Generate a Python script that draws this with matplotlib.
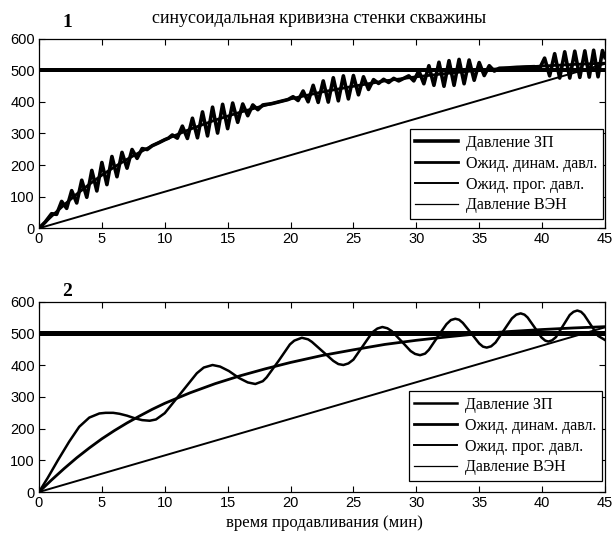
import matplotlib.pyplot as plt
import numpy as np

# время, мин / давление
dyn_t = [0, 1, 2, 3, 4, 5, 6, 7, 8, 9, 10, 12, 14, 16, 18, 20, 22.5, 25, 27.5,
         30, 32.5, 35, 37.5, 40, 42.5, 45]
dyn_p = [0, 38, 74, 108, 139, 168, 194, 218, 240, 261, 280, 313, 342, 367, 389,
         409, 431, 449, 466, 479, 490, 500, 507, 513, 518, 522]

prog_t = [0, 45]
prog_p = [0, 520]

ven_t = [0, 45]
ven_mid = [501, 501]
ven_lo = [494, 494]
ven_hi = [508, 508]

# panel 1: pressure with bursts of oscillation (read peak by peak)
zp1_t = [0, 0.5, 1.0, 1.4, 1.8, 2.2, 2.6, 3.0, 3.4, 3.8, 4.2, 4.6, 5.0, 5.4, 5.8,
         6.2, 6.6, 7.0, 7.4, 7.8, 8.2, 8.6, 9.0, 9.5, 10.0, 10.3,
         10.6, 11.0, 11.4, 11.8, 12.2, 12.6, 13.0, 13.4, 13.8, 14.2, 14.6, 15.0,
         15.4, 15.8, 16.2, 16.6, 17.0, 17.4, 17.8, 18.5, 19.2, 19.8,
         20.2, 20.6, 21.0, 21.4, 21.8, 22.2, 22.6, 23.0, 23.4, 23.8, 24.2, 24.6,
         25.0, 25.4, 25.8, 26.2, 26.6, 27.0, 27.4, 27.8, 28.2, 28.6, 29.0,
         29.4, 29.8, 30.2, 30.6, 31.0, 31.4, 31.8, 32.2, 32.6, 33.0, 33.4, 33.8,
         34.2, 34.6, 35.0, 35.4, 35.8, 36.2, 36.6, 37.3, 38.0, 38.7, 39.4,
         39.8, 40.2, 40.6, 41.0, 41.4, 41.8, 42.2, 42.6, 43.0, 43.4, 43.75, 44.1,
         44.45, 44.8, 45.0]
zp1_p = [0, 20, 46, 44, 85, 63, 119, 80, 152, 98, 183, 118, 208, 138, 227,
         163, 240, 190, 249, 221, 252, 249, 261, 270, 280, 285,
         295, 285, 323, 284, 348, 286, 368, 292, 383, 301, 392, 315,
         396, 335, 393, 356, 390, 375, 390, 394, 401, 407,
         416, 404, 434, 400, 452, 398, 466, 399, 476, 403, 482, 409,
         483, 422, 479, 439, 470, 458, 471, 461, 474, 466, 474,
         482, 466, 498, 457, 514, 452, 525, 449, 530, 452, 534, 457,
         532, 468, 524, 483, 514, 497, 506, 507, 509, 510, 511,
         505, 538, 482, 552, 475, 558, 475, 560, 477, 561, 478, 563,
         479, 562, 540]

# panel 2: smooth wave
zp2_t = [0, 0.7, 1.5, 2.4, 3.2, 4.0, 4.8, 5.3, 5.9, 6.4, 7.0, 7.6, 8.2, 8.8,
         9.3, 10.0, 11.3, 12.55, 13.1, 13.8, 14.4, 15.1, 15.5, 15.9, 16.6,
         17.2, 17.8, 18.1, 19.05, 19.95, 20.3, 20.9, 21.4, 21.7, 22.55, 23.4,
         23.8, 24.2, 24.6, 25.0, 25.75, 26.5, 26.9, 27.3, 27.7, 28.05, 28.8,
         29.55, 29.9, 30.3, 30.7, 31.0, 31.7, 32.4, 32.75, 33.1, 33.4, 33.7,
         34.35, 35.0, 35.3, 35.6, 35.95, 36.3, 36.95, 37.6, 37.95, 38.3, 38.6,
         38.85, 39.4, 39.95, 40.25, 40.5, 40.8, 41.1, 41.65, 42.2, 42.5, 42.8,
         43.1, 43.35, 43.9, 44.45, 45.0]
zp2_p = [0, 45, 100, 159, 206, 235, 248, 250, 250, 247, 241, 233, 227, 225,
         229, 249, 313, 375, 393, 401, 396, 382, 371, 360, 346,
         341, 350, 362, 414, 466, 478, 487, 482, 474, 444, 414,
         404, 401, 406, 418, 461, 504, 516, 521, 517, 508, 477,
         445, 436, 432, 437, 449, 490, 530, 543, 547, 544, 534,
         502, 469, 459, 456, 460, 472, 510, 548, 560, 564, 560,
         551, 520, 488, 478, 475, 479, 489, 524, 559, 569, 573,
         569, 559, 526, 493, 480]

labels = ['Давление ЗП', 'Ожид. динам. давл.', 'Ожид. прог. давл.', 'Давление ВЭН']

serif = ['Liberation Serif', 'DejaVu Serif']
tickfont = ['Liberation Sans Narrow', 'Liberation Sans', 'DejaVu Sans']

fig = plt.figure(figsize=(6.13, 5.38), dpi=100)
ax1 = fig.add_axes([0.0636, 0.5757, 0.9233, 0.3527])
ax2 = fig.add_axes([0.0636, 0.0855, 0.9233, 0.3532])

panels = [(ax1, zp1_t, zp1_p, 2.6, (0.997, 0.049)),
          (ax2, zp2_t, zp2_p, 1.8, (0.995, 0.058))]

for ax, zt, zp, zlw, anchor in panels:
    ax.fill_between(ven_t, ven_lo, ven_hi, color='black', lw=0)
    h_zp, = ax.plot(zt, zp, color='black', lw=zlw, solid_joinstyle='round')
    h_dyn, = ax.plot(dyn_t, dyn_p, color='black', lw=2.0)
    h_prog, = ax.plot(prog_t, prog_p, color='black', lw=1.4)
    h_ven, = ax.plot(ven_t, ven_mid, color='black', lw=0.9)
    ax.set_xlim(0, 45)
    ax.set_ylim(0, 600)
    ax.set_xticks(np.arange(0, 46, 5))
    ax.set_yticks(np.arange(0, 601, 100))
    ax.tick_params(direction='in', top=True, right=True, length=4, width=0.8,
                   labelsize=10.5, pad=3)
    for lab in ax.get_xticklabels() + ax.get_yticklabels():
        lab.set_family(tickfont)
    for s in ax.spines.values():
        s.set_linewidth(0.9)
    leg = ax.legend([h_zp, h_dyn, h_prog, h_ven], labels, loc='lower right',
                    bbox_to_anchor=anchor, borderaxespad=0, fancybox=False,
                    framealpha=1, edgecolor='black', handlelength=2.7,
                    labelspacing=0.3, borderpad=0.35, handletextpad=0.5,
                    prop={'family': serif, 'size': 11.5})
    leg.get_frame().set_linewidth(0.9)

fig.text(0.52, 0.966, 'синусоидальная кривизна стенки скважины', ha='center',
         va='center', family=serif, fontsize=13)
fig.text(0.11, 0.958, '1', ha='center', va='center', family=serif,
         fontsize=14, fontweight='bold')
fig.text(0.11, 0.458, '2', ha='center', va='center', family=serif,
         fontsize=14, fontweight='bold')
fig.text(0.53, 0.028, 'время продавливания (мин)', ha='center', va='center',
         family=serif, fontsize=12)

fig.savefig('out.png', dpi=100, facecolor='white')
